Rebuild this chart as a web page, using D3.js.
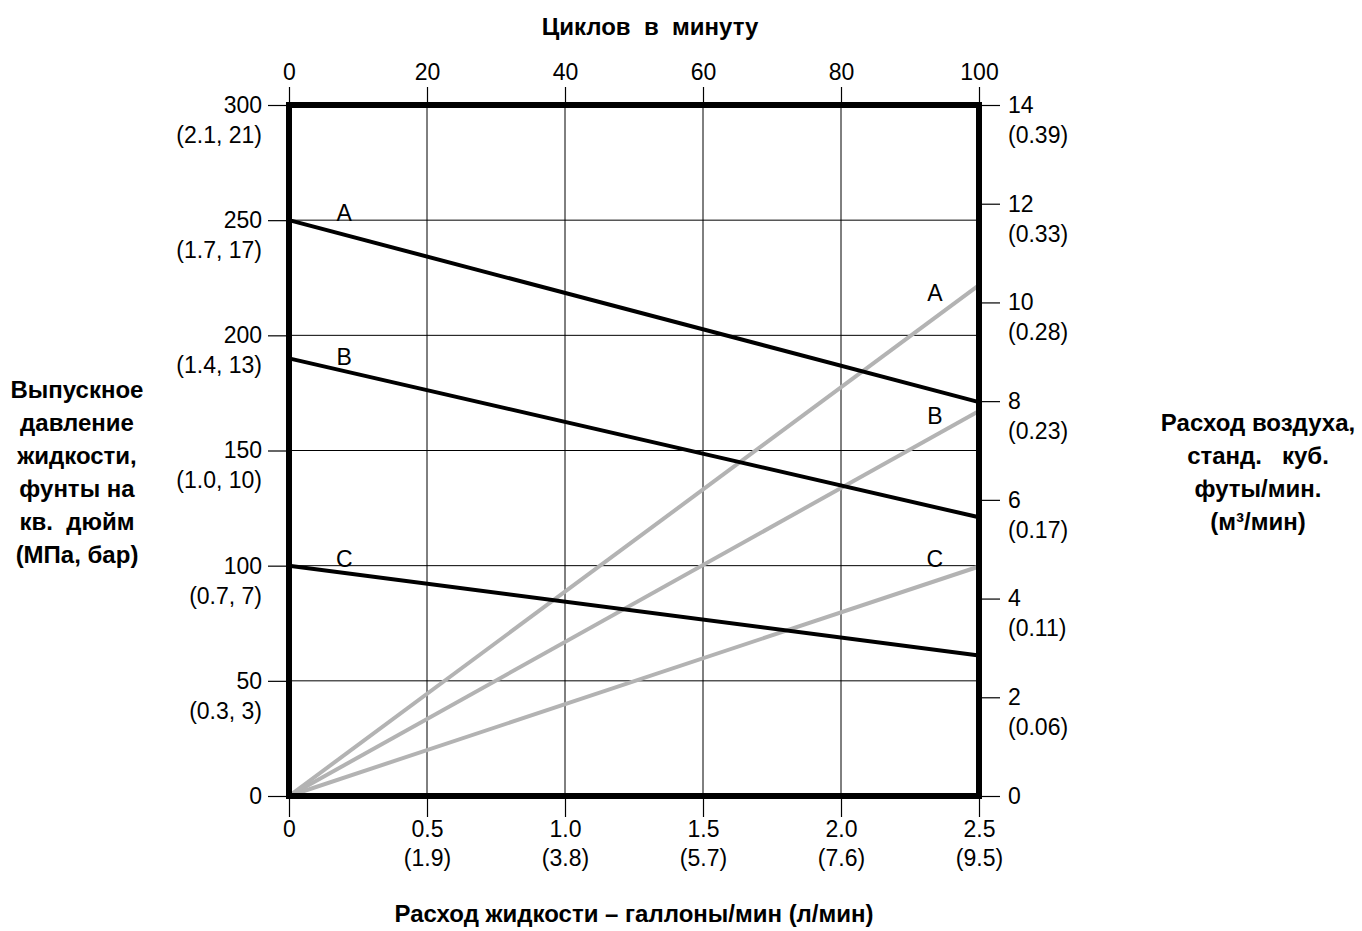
<!DOCTYPE html>
<html>
<head>
<meta charset="utf-8">
<script src="https://cdn.jsdelivr.net/npm/d3@7"></script>
<style>
  body { margin: 0; background: #fff; }
  svg { font-family: "Liberation Sans", Arial, sans-serif; }
  svg text { white-space: pre; }
  .axis text { font-size: 23px; fill: #000; }
  .axis path { display: none; }
  .axis line { stroke: #000; stroke-width: 1.2; }
  .title { font-size: 24px; font-weight: bold; fill: #000; }
</style>
</head>
<body>
<svg width="1362" height="931"></svg>
<script>
// tick values and their metric second lines
var flowTicks = [0, 0.5, 1.0, 1.5, 2.0, 2.5];
var flowLiters = ["", "(1.9)", "(3.8)", "(5.7)", "(7.6)", "(9.5)"];
var cycleTicks = [0, 20, 40, 60, 80, 100];
var pressureTicks = [0, 50, 100, 150, 200, 250, 300];
var pressureMetric = ["", "(0.3, 3)", "(0.7, 7)", "(1.0, 10)", "(1.4, 13)", "(1.7, 17)", "(2.1, 21)"];
var airTicks = [0, 2, 4, 6, 8, 10, 12, 14];
var airMetric = ["", "(0.06)", "(0.11)", "(0.17)", "(0.23)", "(0.28)", "(0.33)", "(0.39)"];

// fluid pressure (psi) at 0 and 2.5 gpm
var pressureNames = ["A", "B", "C"];
var pressureStart = [250, 190, 100];
var pressureEnd = [171, 121, 61];
var pressureLabelAt = [249.7, 187, 99.4];

// air consumption (scfm) at 0 and 2.5 gpm
var airNames = ["A", "B", "C"];
var airStart = [0, 0, 0];
var airEnd = [10.35, 7.8, 4.65];
var airLabelAt = [10.03, 7.54, 4.64];

var svg = d3.select("svg");
var margin = { top: 105, left: 289, right: 979, bottom: 796 };

var x = d3.scaleLinear().domain([0, 2.5]).range([margin.left, margin.right]);
var xTop = d3.scaleLinear().domain([0, 100]).range([margin.left, margin.right]);
var y = d3.scaleLinear().domain([0, 300]).range([margin.bottom, margin.top]);
var yAir = d3.scaleLinear().domain([0, 14]).range([margin.bottom, margin.top]);

// grid
var grid = svg.append("g").attr("stroke", "#000").attr("stroke-width", 1);
grid.selectAll(".gx").data(flowTicks).enter().append("line")
    .attr("x1", d => x(d)).attr("x2", d => x(d))
    .attr("y1", margin.top).attr("y2", margin.bottom);
grid.selectAll(".gy").data(pressureTicks).enter().append("line")
    .attr("x1", margin.left).attr("x2", margin.right)
    .attr("y1", d => y(d)).attr("y2", d => y(d));

// axes
var bottom = svg.append("g").attr("class", "axis")
    .attr("transform", `translate(0, ${margin.bottom})`)
    .call(d3.axisBottom(x).tickValues(flowTicks).tickSize(21).tickPadding(4)
        .tickFormat(d => d === 0 ? "0" : d.toFixed(1)));
bottom.selectAll(".tick").append("text")
    .attr("y", 70).attr("fill", "#000")
    .text((d, i) => flowLiters[i]);

svg.append("g").attr("class", "axis")
    .attr("transform", `translate(0, ${margin.top})`)
    .call(d3.axisTop(xTop).tickValues(cycleTicks).tickSize(18).tickPadding(7));

var left = svg.append("g").attr("class", "axis")
    .attr("transform", `translate(${margin.left}, 0)`)
    .call(d3.axisLeft(y).tickValues(pressureTicks).tickSize(21).tickPadding(6));
left.selectAll(".tick").append("text")
    .attr("x", -27).attr("y", 30).attr("dy", "0.32em").attr("fill", "#000")
    .text((d, i) => pressureMetric[i]);

var right = svg.append("g").attr("class", "axis")
    .attr("transform", `translate(${margin.right}, 0)`)
    .call(d3.axisRight(yAir).tickValues(airTicks).tickSize(21).tickPadding(8));
right.selectAll(".tick").append("text")
    .attr("x", 29).attr("y", 30).attr("dy", "0.32em").attr("fill", "#000")
    .text((d, i) => airMetric[i]);

// air lines (gray)
var air = svg.append("g");
air.selectAll("line").data(airNames).enter().append("line")
    .attr("x1", x(0)).attr("y1", (d, i) => yAir(airStart[i]))
    .attr("x2", x(2.5)).attr("y2", (d, i) => yAir(airEnd[i]))
    .attr("stroke", "#b3b3b3").attr("stroke-width", 4);
air.selectAll("text").data(airNames).enter().append("text")
    .attr("x", x(2.34)).attr("y", (d, i) => yAir(airLabelAt[i]))
    .attr("text-anchor", "middle").attr("font-size", 23)
    .text(d => d);

// pressure lines (black)
var pres = svg.append("g");
pres.selectAll("line").data(pressureNames).enter().append("line")
    .attr("x1", x(0)).attr("y1", (d, i) => y(pressureStart[i]))
    .attr("x2", x(2.5)).attr("y2", (d, i) => y(pressureEnd[i]))
    .attr("stroke", "#000").attr("stroke-width", 4);
pres.selectAll("text").data(pressureNames).enter().append("text")
    .attr("x", x(0.2)).attr("y", (d, i) => y(pressureLabelAt[i]))
    .attr("text-anchor", "middle").attr("font-size", 23)
    .text(d => d);

// frame
svg.append("rect")
    .attr("x", margin.left).attr("y", margin.top)
    .attr("width", margin.right - margin.left).attr("height", margin.bottom - margin.top)
    .attr("fill", "none").attr("stroke", "#000").attr("stroke-width", 6);

// titles
svg.append("text").attr("class", "title")
    .attr("x", 650).attr("y", 35).attr("text-anchor", "middle")
    .text("Циклов  в  минуту");
svg.append("text").attr("class", "title")
    .attr("x", 634).attr("y", 922).attr("text-anchor", "middle")
    .text("Расход жидкости – галлоны/мин (л/мин)");

var leftTitle = ["Выпускное", "давление", "жидкости,", "фунты на", "кв.  дюйм", "(МПа, бар)"];
svg.append("text").attr("class", "title").attr("text-anchor", "middle")
    .selectAll("tspan").data(leftTitle).enter().append("tspan")
    .attr("x", 77).attr("y", (d, i) => 398 + i * 33)
    .text(d => d);

var rightTitle = ["Расход воздуха,", "станд.   куб.", "футы/мин.", "(м³/мин)"];
svg.append("text").attr("class", "title").attr("text-anchor", "middle")
    .selectAll("tspan").data(rightTitle).enter().append("tspan")
    .attr("x", 1258).attr("y", (d, i) => 431 + i * 33)
    .text(d => d);
</script>
</body>
</html>
